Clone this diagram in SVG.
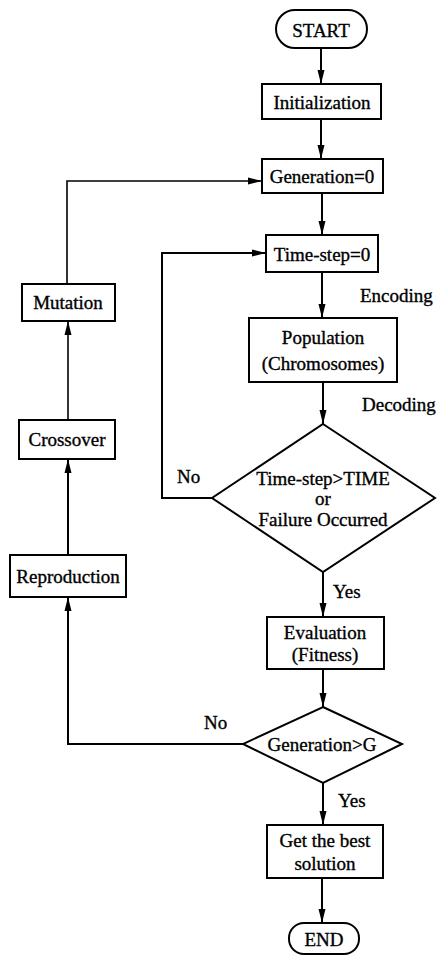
<svg xmlns="http://www.w3.org/2000/svg" width="440" height="956" viewBox="0 0 440 956">
<style>
.n{fill:#fff;stroke:#000;stroke-width:2}
.t{font-family:"Liberation Serif","Times New Roman",serif;font-size:19px;fill:#000;stroke:#000;stroke-width:0.35;text-anchor:middle}
.l{font-family:"Liberation Serif","Times New Roman",serif;font-size:19px;fill:#000;stroke:#000;stroke-width:0.35}
.c{fill:none;stroke:#000;stroke-width:2}
.c2{fill:none;stroke:#000;stroke-width:1.6}
</style>
<defs>
<marker id="ah" markerUnits="userSpaceOnUse" markerWidth="15" markerHeight="8" refX="14" refY="4" orient="auto">
<path d="M0,0.5 L14,4 L0,7.5 Z" fill="#000"/>
</marker>
</defs>
<rect width="440" height="956" fill="#fff"/>
<g id="connectors">
<path class="c" d="M321,48 V84" marker-end="url(#ah)"/>
<path class="c" d="M321,119 V159" marker-end="url(#ah)"/>
<path class="c" d="M322,193 V235" marker-end="url(#ah)"/>
<path class="c" d="M322,272 V318" marker-end="url(#ah)"/>
<path class="c" d="M323,382 V424" marker-end="url(#ah)"/>
<path class="c" d="M212,498 H162 V253 H266" marker-end="url(#ah)"/>
<path class="c" d="M323,572 V617" marker-end="url(#ah)"/>
<path class="c" d="M323,669 V707" marker-end="url(#ah)"/>
<path class="c" d="M323,783 V825" marker-end="url(#ah)"/>
<path class="c" d="M322,878 V923" marker-end="url(#ah)"/>
<path class="c" d="M243,744 H68 V597" marker-end="url(#ah)"/>
<path class="c" d="M68,555 V459" marker-end="url(#ah)"/>
<path class="c2" d="M68,420 V321" marker-end="url(#ah)"/>
<path class="c2" d="M67,284 V181 H262" marker-end="url(#ah)"/>
</g>
<g id="labels">
<text class="l" x="360" y="302">Encoding</text>
<text class="l" x="362" y="411">Decoding</text>
<text class="l" x="177" y="483">No</text>
<text class="l" x="333" y="598">Yes</text>
<text class="l" x="204" y="729">No</text>
<text class="l" x="338" y="807">Yes</text>
</g>
<g id="start">
<rect class="n" x="276" y="10" width="91" height="38" rx="19"/>
<text class="t" x="321" y="37">START</text>
</g>
<g id="init">
<rect class="n" x="262" y="84" width="119" height="35"/>
<text class="t" x="322" y="109">Initialization</text>
</g>
<g id="gen0">
<rect class="n" x="262" y="159" width="121" height="34"/>
<text class="t" x="322" y="183">Generation=0</text>
</g>
<g id="timestep">
<rect class="n" x="266" y="235" width="112" height="37"/>
<text class="t" x="322" y="261">Time-step=0</text>
</g>
<g id="population">
<rect class="n" x="249" y="318" width="148" height="64"/>
<text class="t" x="323" y="344">Population</text>
<text class="t" x="323" y="370">(Chromosomes)</text>
</g>
<g id="check-time">
<polygon class="n" points="323,424 435,498 323,572 212,498"/>
<text class="t" x="323" y="485">Time-step&gt;TIME</text>
<text class="t" x="323" y="505">or</text>
<text class="t" x="323" y="526">Failure Occurred</text>
</g>
<g id="evaluation">
<rect class="n" x="267" y="617" width="117" height="52"/>
<text class="t" x="325" y="639">Evaluation</text>
<text class="t" x="325" y="661">(Fitness)</text>
</g>
<g id="check-gen">
<polygon class="n" points="323,707 402,744 323,783 243,744"/>
<text class="t" x="322" y="751">Generation&gt;G</text>
</g>
<g id="best">
<rect class="n" x="267" y="825" width="116" height="53"/>
<text class="t" x="325" y="847">Get the best</text>
<text class="t" x="325" y="870">solution</text>
</g>
<g id="end">
<rect class="n" x="289" y="923" width="70" height="31" rx="15"/>
<text class="t" x="324" y="946">END</text>
</g>
<g id="mutation">
<rect class="n" x="22" y="284" width="93" height="37"/>
<text class="t" x="68" y="309">Mutation</text>
</g>
<g id="crossover">
<rect class="n" x="19" y="420" width="96" height="39"/>
<text class="t" x="67" y="446">Crossover</text>
</g>
<g id="reproduction">
<rect class="n" x="10" y="555" width="116" height="42"/>
<text class="t" x="68" y="583">Reproduction</text>
</g>
</svg>
